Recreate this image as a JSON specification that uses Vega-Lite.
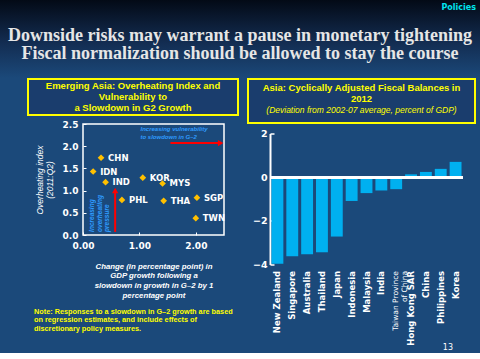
{
  "$schema": "https://vega.github.io/schema/vega-lite/v6.json",
  "background": "#1b497a",
  "padding": 0,
  "spacing": 0,
  "config": {"view": {"stroke": null}, "font": "Liberation Sans"},
  "vconcat": [
    {
      "width": 480,
      "height": 78,
      "title": {"text": "Policies", "anchor": "end", "orient": "top", "offset": -12, "frame": "group", "dx": -4, "color": "#00e5ee", "fontSize": 8, "fontWeight": "bold", "font": "DejaVu Sans"},
      "data": {"values": [{"t": "Downside risks may warrant  a pause in monetary tightening\nFiscal normalization should be allowed to stay the course"}]},
      "layer": [
        {
          "mark": {"type": "rect", "color": {"gradient": "linear", "x1": 0, "y1": 0, "x2": 0, "y2": 1, "stops": [{"offset": 0, "color": "#030a16"}, {"offset": 0.55, "color": "#132d52"}, {"offset": 1, "color": "#1b497a"}]}},
          "encoding": {}
        },
        {
          "mark": {"type": "text", "lineBreak": "\n", "lineHeight": 18.5, "font": "Liberation Serif", "fontSize": 18, "fontWeight": "bold", "color": "#e6e6e6", "dy": -3.5},
          "encoding": {"text": {"field": "t"}}
        }
      ]
    },
    {
      "spacing": 8,
      "align": "none",
      "hconcat": [
        {"width": 19, "height": 1, "data": {"values": []}, "mark": "point", "encoding": {}},
        {
          "spacing": 3,
          "title": {"text": ["Note: Responses to a slowdown in G–2 growth are based", "on regression estimates, and include effects of", "discretionary policy measures."], "orient": "bottom", "anchor": "start", "frame": "group", "offset": 8, "dx": 6, "color": "#ffff00", "fontSize": 7.3, "fontWeight": "bold", "lineHeight": 8.5, "font": "Liberation Sans"},
          "vconcat": [
            {
              "width": 210,
              "height": 36,
              "view": {"stroke": "#ffff00", "strokeWidth": 2, "fill": "#1a3d6d"},
              "data": {"values": [{"line": 1, "t": "Emerging Asia:  Overheating Index and"}, {"line": 2, "t": "Vulnerability to"}, {"line": 3, "t": "a Slowdown in G2 Growth"}]},
              "mark": {"type": "text", "color": "#ffff00", "fontWeight": "bold", "fontSize": 9.5, "font": "Liberation Sans"},
              "encoding": {
                "y": {"field": "line", "type": "ordinal", "axis": null, "scale": {"padding": 0.64}},
                "text": {"field": "t"}
              }
            },
            {
              "spacing": 0,
              "bounds": "flush",
              "hconcat": [
                {"width": 55, "height": 1, "data": {"values": []}, "mark": "point", "encoding": {}},
                {
                  "width": 141,
                  "height": 111,
                  "view": {"stroke": "white", "strokeWidth": 1.5},
                  "encoding": {
                    "x": {"field": "x", "type": "quantitative", "scale": {"domain": [0, 2.5], "nice": false}, "axis": {"values": [0, 1, 2], "format": ".2f", "labelFlush": false, "labelOverlap": false, "labelColor": "white", "labelFontWeight": "bold", "labelFontSize": 9, "labelFont": "DejaVu Sans", "domain": false, "grid": false, "tickColor": "white", "tickSize": -3, "labelPadding": 9, "title": ["Change (in percentage point) in", "GDP growth following a", "slowdown in growth in G–2 by 1", "percentage point"], "titleColor": "white", "titleFontStyle": "italic", "titleFontWeight": "bold", "titleFontSize": 7.8, "titleLineHeight": 9.8, "titlePadding": 12, "titleFont": "Liberation Sans"}},
                    "y": {"field": "y", "type": "quantitative", "scale": {"domain": [0, 2.5], "nice": false}, "axis": {"values": [0, 0.5, 1, 1.5, 2, 2.5], "format": ".1f", "labelOverlap": false, "labelColor": "white", "labelFontWeight": "bold", "labelFontSize": 9, "labelFont": "DejaVu Sans", "domain": false, "grid": false, "tickColor": "white", "tickSize": -3, "labelPadding": 8, "title": ["Overheating index", "(2011:Q2)"], "titleColor": "white", "titleFontStyle": "italic", "titleFontWeight": "normal", "titleFontSize": 8.5, "titleLineHeight": 10, "titlePadding": 8, "titleFont": "Liberation Sans"}}
                  },
                  "layer": [
                    {
                      "data": {"values": [
                        {"c": "CHN", "x": 0.32, "y": 1.74},
                        {"c": "IDN", "x": 0.18, "y": 1.43},
                        {"c": "IND", "x": 0.40, "y": 1.19},
                        {"c": "KOR", "x": 1.06, "y": 1.29},
                        {"c": "MYS", "x": 1.41, "y": 1.16},
                        {"c": "PHL", "x": 0.69, "y": 0.79},
                        {"c": "THA", "x": 1.43, "y": 0.77},
                        {"c": "SGP", "x": 2.02, "y": 0.84},
                        {"c": "TWN", "x": 2.00, "y": 0.38}
                      ]},
                      "layer": [
                        {
                          "mark": {"type": "point", "shape": "diamond", "filled": true, "color": "#ffc000", "size": 45, "opacity": 1}
                        },
                        {
                          "mark": {"type": "text", "align": "left", "dx": 7, "color": "white", "fontWeight": "bold", "fontSize": 8.5, "font": "DejaVu Sans"},
                          "encoding": {"text": {"field": "c"}}
                        }
                      ]
                    },
                    {
                      "data": {"values": [
                        {"dir": "right", "x": 1.55, "y": 2.07, "x2": 2.44, "y2": 2.07},
                        {"dir": "up", "x": 0.57, "y": 0.07, "x2": 0.57, "y2": 1.0}
                      ]},
                      "layer": [
                        {
                          "mark": {"type": "rule", "color": "#ff0000", "strokeWidth": 2},
                          "encoding": {
                            "x2": {"field": "x2"},
                            "y2": {"field": "y2"}
                          }
                        },
                        {
                          "transform": [{"filter": "datum.dir == 'right'"}, {"calculate": "datum.x2", "as": "hx"}, {"calculate": "datum.y2", "as": "hy"}],
                          "mark": {"type": "point", "shape": "triangle-right", "filled": true, "color": "#ff0000", "size": 40, "opacity": 1},
                          "encoding": {
                            "x": {"field": "hx", "type": "quantitative"},
                            "y": {"field": "hy", "type": "quantitative"}
                          }
                        },
                        {
                          "transform": [{"filter": "datum.dir == 'up'"}, {"calculate": "datum.x2", "as": "hx"}, {"calculate": "datum.y2", "as": "hy"}],
                          "mark": {"type": "point", "shape": "triangle-up", "filled": true, "color": "#ff0000", "size": 40, "opacity": 1},
                          "encoding": {
                            "x": {"field": "hx", "type": "quantitative"},
                            "y": {"field": "hy", "type": "quantitative"}
                          }
                        }
                      ]
                    },
                    {
                      "data": {"values": [{"x": 1.02, "y": 2.39, "t": "Increasing vulnerability\nto slowdown in G–2"}]},
                      "mark": {"type": "text", "align": "left", "baseline": "middle", "lineBreak": "\n", "lineHeight": 8, "fontStyle": "italic", "fontWeight": "bold", "fontSize": 6, "color": "#2f9bff", "font": "Liberation Sans"},
                      "encoding": {"text": {"field": "t"}}
                    },
                    {
                      "data": {"values": [{"x": 0.11, "y": 0.07, "t": "Increasing\noverheating\npressure"}]},
                      "mark": {"type": "text", "align": "left", "baseline": "top", "angle": 270, "lineBreak": "\n", "lineHeight": 7.5, "fontStyle": "italic", "fontWeight": "bold", "fontSize": 6.5, "color": "#2f9bff", "font": "Liberation Sans"},
                      "encoding": {"text": {"field": "t"}}
                    }
                  ]
                }
              ]
            }
          ]
        },
        {
          "spacing": 4.5,
          "vconcat": [
            {
              "width": 227,
              "height": 44,
              "view": {"stroke": "#ffff00", "strokeWidth": 2, "fill": "#1a3d6d"},
              "data": {"values": [{"line": 1, "t": "Asia: Cyclically Adjusted Fiscal Balances in"}, {"line": 2, "t": "2012"}, {"line": 3, "t": "(Deviation from 2002-07 average, percent of GDP)"}]},
              "encoding": {
                "y": {"field": "line", "type": "ordinal", "axis": null, "scale": {"padding": 1, "align": 0.4}},
                "text": {"field": "t"}
              },
              "layer": [
                {
                  "transform": [{"filter": "datum.line < 3"}],
                  "mark": {"type": "text", "color": "#ffff00", "fontWeight": "bold", "fontSize": 9.5, "font": "Liberation Sans"}
                },
                {
                  "transform": [{"filter": "datum.line == 3"}],
                  "mark": {"type": "text", "color": "#ffff00", "fontStyle": "italic", "fontSize": 8.5, "font": "Liberation Sans"}
                }
              ]
            },
            {
              "spacing": 0,
              "bounds": "flush",
              "hconcat": [
                {"width": 22, "height": 1, "data": {"values": []}, "mark": "point", "encoding": {}},
                {
                  "width": 193,
                  "height": 131,
                  "title": {"text": "13", "orient": "bottom", "anchor": "end", "frame": "group", "offset": -1, "dx": -10, "color": "white", "fontSize": 8, "fontWeight": "normal", "font": "DejaVu Sans"},
                  "data": {"values": [
                    {"country": "New Zealand", "value": -3.96},
                    {"country": "Singapore", "value": -3.62},
                    {"country": "Australia", "value": -3.53},
                    {"country": "Thailand", "value": -3.44},
                    {"country": "Japan", "value": -2.72},
                    {"country": "Indonesia", "value": -1.09},
                    {"country": "Malaysia", "value": -0.73},
                    {"country": "India", "value": -0.61},
                    {"country": "Taiwan Province of China", "value": -0.55},
                    {"country": "Hong Kong SAR", "value": 0.13},
                    {"country": "China", "value": 0.24},
                    {"country": "Philippines", "value": 0.38},
                    {"country": "Korea", "value": 0.70}
                  ]},
                  "layer": [
                    {
                      "mark": {"type": "bar", "color": "#00b0f0"},
                      "encoding": {
                        "x": {"field": "country", "type": "nominal", "sort": null, "scale": {"paddingInner": 0.2, "paddingOuter": 0.1}, "axis": {"labelAngle": 270, "labelAlign": "right", "labelBaseline": "middle", "labelColor": "white", "labelFontWeight": {"condition": {"test": "datum.value == 'Taiwan Province of China'", "value": "normal"}, "value": "bold"}, "labelFontSize": {"condition": {"test": "datum.value == 'Taiwan Province of China'", "value": 7.5}, "value": 8.5}, "labelFont": "DejaVu Sans", "labelLineHeight": 8.5, "labelExpr": "datum.value == 'Taiwan Province of China' ? ['Taiwan Province', 'of China'] : datum.value", "domain": false, "ticks": false, "labelPadding": 6, "title": null}},
                        "y": {"field": "value", "type": "quantitative", "scale": {"domain": [-4, 2], "nice": false}, "axis": {"values": [-4, -3, -2, -1, 0, 1, 2], "format": "d", "labelOverlap": false, "labelColor": "white", "labelFontWeight": "bold", "labelFontSize": 9.5, "labelFont": "DejaVu Sans", "domainColor": "white", "domainWidth": 2, "tickColor": "white", "tickSize": -4, "tickWidth": 1.5, "labelPadding": 7, "grid": false, "title": null}}
                      }
                    },
                    {
                      "mark": {"type": "rule", "color": "white", "strokeWidth": 2.5},
                      "encoding": {"y": {"datum": 0}}
                    }
                  ]
                }
              ]
            }
          ]
        }
      ]
    }
  ]
}
